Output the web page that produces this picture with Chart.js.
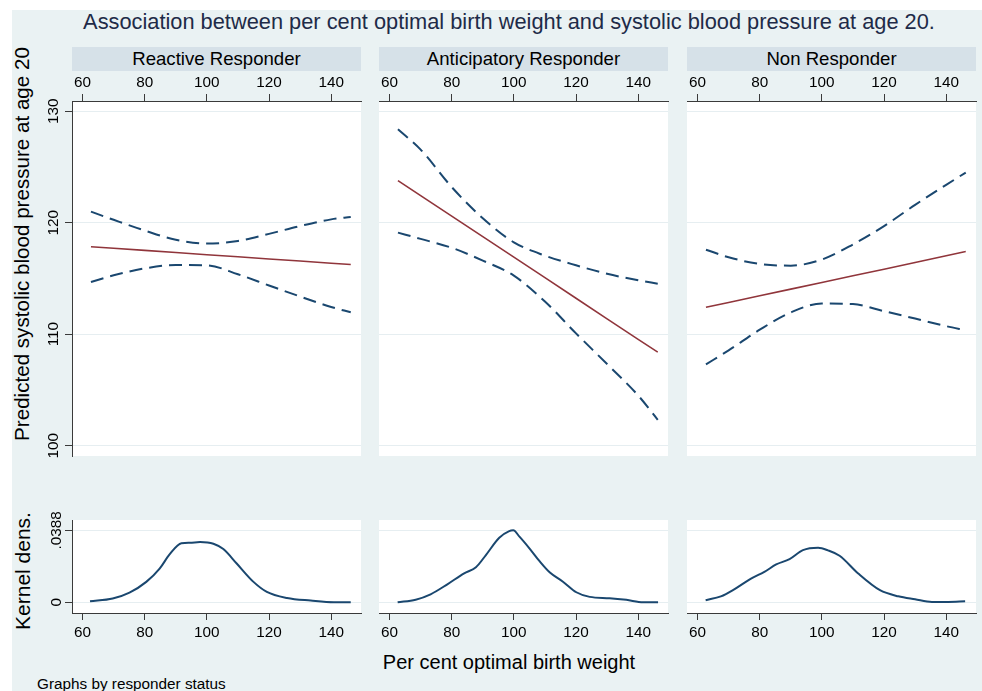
<!DOCTYPE html>
<html>
<head>
<meta charset="utf-8">
<script src="https://cdn.jsdelivr.net/npm/chart.js@4.4.1/dist/chart.umd.min.js"></script>
<style>
    body { margin: 0; background: #fff; font-family: Arial, "Liberation Sans", sans-serif; }
    #wrap { position: relative; width: 982px; height: 691px; overflow: hidden; }
    #bg { position: absolute; left: 12px; top: 10px; right: 0; bottom: 0; background: #eaf2f3; }
    .txt { position: absolute; white-space: nowrap; color: #000; }
    .strip { position: absolute; height: 24px; background: #d6e1e8; text-align: center; line-height: 24px; font-size: 18.6px; }
    .vert { transform: translate(-50%, -50%) rotate(-90deg); }
    canvas { position: absolute; }
</style>
</head>
<body>
<div id="wrap">
    <div id="bg"></div>
    <div class="txt" style="left:509px; top:22px; transform:translate(-50%,-50%); font-size:21.8px; color:#1e2b48;">Association between per cent optimal birth weight and systolic blood pressure at age 20.</div>
    <div class="txt vert" style="left:22px; top:244px; font-size:20.6px;">Predicted systolic blood pressure at age 20</div>
    <div class="txt vert" style="left:23px; top:571px; font-size:21px;">Kernel dens.</div>
    <div class="txt" style="left:509px; top:662px; transform:translate(-50%,-50%); font-size:20px;">Per cent optimal birth weight</div>
    <div class="txt" style="left:37px; top:684px; transform:translateY(-50%); font-size:15.3px;">Graphs by responder status</div>
</div>
<script>
// values
const groups = ['Reactive Responder', 'Anticipatory Responder', 'Non Responder'];
const xTicks = [60, 80, 100, 120, 140];
const bpTicks = [100, 110, 120, 130];
const densTicks = [0, 0.0388];
const densTickLabels = ['0', '.0388'];

const fitX = [62.7, 70, 80, 90, 100, 110, 120, 130, 140, 146.3];

const reactiveFit   = [117.85, 117.71, 117.52, 117.33, 117.13, 116.94, 116.75, 116.56, 116.37, 116.25];
const reactiveUpper = [120.99, 120.26, 119.30, 118.47, 118.13, 118.36, 119.00, 119.70, 120.30, 120.51];
const reactiveLower = [114.68, 115.28, 115.90, 116.21, 116.18, 115.37, 114.37, 113.38, 112.44, 111.96];

const anticipFit   = [123.78, 122.43, 120.59, 118.75, 116.91, 115.07, 113.22, 111.38, 109.54, 108.39];
const anticipUpper = [128.38, 126.56, 123.20, 120.40, 118.24, 117.05, 116.18, 115.42, 114.83, 114.53];
const anticipLower = [119.11, 118.55, 117.75, 116.60, 115.25, 112.93, 110.07, 107.32, 104.50, 102.32];

const nonFit   = [112.41, 112.85, 113.44, 114.04, 114.64, 115.24, 115.83, 116.43, 117.03, 117.41];
const nonUpper = [117.58, 116.90, 116.30, 116.15, 116.70, 118.05, 119.70, 121.60, 123.40, 124.50];
const nonLower = [107.29, 108.55, 110.40, 111.95, 112.75, 112.70, 112.06, 111.40, 110.72, 110.34];

const reactiveDensX = [62.4, 69.7, 75.1, 80.5, 84.8, 88.0, 91.8, 94.5, 97.8, 102.1, 105.3, 109.6, 115.0, 119.3, 125.8, 133.4, 140.9, 146.3];
const reactiveDensY = [0.0005, 0.0020, 0.0052, 0.0110, 0.0182, 0.0258, 0.0319, 0.0321, 0.0325, 0.0316, 0.0287, 0.0209, 0.0110, 0.0056, 0.0023, 0.0009, 0.0, 0.0];

const anticipDensX = [62.6, 68.4, 73.2, 78.6, 84.0, 87.8, 91.0, 95.3, 98.5, 99.8, 101.8, 105.0, 108.2, 111.5, 115.8, 120.1, 124.4, 130.8, 136.2, 141.6, 146.4];
const anticipDensY = [0.0, 0.0014, 0.0043, 0.0097, 0.0156, 0.0189, 0.0255, 0.0348, 0.0384, 0.0388, 0.0354, 0.0291, 0.0223, 0.0162, 0.0111, 0.0054, 0.0029, 0.0022, 0.0013, 0.0, 0.0];

const nonDensX = [62.6, 67.5, 71.8, 77.2, 81.5, 85.3, 89.6, 93.9, 98.8, 102.0, 105.7, 111.7, 118.7, 124.6, 130.0, 135.4, 140.7, 146.1];
const nonDensY = [0.0011, 0.0032, 0.0070, 0.0128, 0.0164, 0.0204, 0.0233, 0.0281, 0.0294, 0.0280, 0.0251, 0.0155, 0.0065, 0.0032, 0.0016, 0.0002, 0.0002, 0.0005];

const panelLines = [
    [reactiveFit, reactiveUpper, reactiveLower],
    [anticipFit, anticipUpper, anticipLower],
    [nonFit, nonUpper, nonLower]
];
const panelDens = [
    [reactiveDensX, reactiveDensY],
    [anticipDensX, anticipDensY],
    [nonDensX, nonDensY]
];

const FONT = 'Arial, "Liberation Sans", sans-serif';
const RED = '#90353b';
const NAVY = '#1a476f';
const AXIS = '#3a3a3a';
const GRID = '#e6eef1';

Chart.defaults.font.family = FONT;
Chart.defaults.color = '#000';

// white plot region
const plotBg = {
    id: 'plotBg',
    beforeDraw(chart) {
        const { ctx, chartArea: a } = chart;
        ctx.save();
        ctx.fillStyle = '#fff';
        ctx.fillRect(a.left, a.top, a.width, a.height);
        ctx.restore();
    }
};

class ResponderPanels {
    constructor() {
        this.wrap = document.getElementById('wrap');
        this.plotLefts = [72, 379, 687];
        this.plotWidth = 289;
        this.pad = 20;
        this.charts = [];
        this.init();
    }

    init() {
        groups.forEach((name, i) => {
            this.addStrip(name, this.plotLefts[i]);
            this.charts.push(this.makePlotChart(i));
            this.charts.push(this.makeDensityChart(i));
        });
    }

    addStrip(name, left) {
        const d = document.createElement('div');
        d.className = 'txt strip';
        d.style.left = left + 'px';
        d.style.top = '47px';
        d.style.width = this.plotWidth + 'px';
        d.textContent = name;
        this.wrap.appendChild(d);
    }

    makeCanvas(left, top, width, height) {
        const c = document.createElement('canvas');
        c.width = width;
        c.height = height;
        c.style.left = left + 'px';
        c.style.top = top + 'px';
        c.style.width = width + 'px';
        c.style.height = height + 'px';
        this.wrap.appendChild(c);
        return c;
    }

    xAxis(position, height, padding) {
        return {
            type: 'linear',
            position: position,
            min: 56.6,
            max: 149.6,
            afterBuildTicks: s => { s.ticks = xTicks.map(v => ({ value: v })); },
            afterFit: s => { s.height = height; },
            ticks: { font: { size: 15.3 }, color: '#000', padding: padding, maxRotation: 0, callback: v => String(v) },
            grid: { drawOnChartArea: false, drawTicks: true, tickLength: 7, tickColor: AXIS, tickWidth: 1 },
            border: { display: true, color: AXIS, width: 1 }
        };
    }

    yAxis(show, min, max, ticks, labels, padding) {
        return {
            type: 'linear',
            position: 'left',
            min: min,
            max: max,
            afterBuildTicks: s => { s.ticks = ticks.map(v => ({ value: v })); },
            afterFit: s => { s.width = show ? 60 : 0; },
            ticks: {
                display: show,
                font: { size: 15.3 },
                color: '#000',
                minRotation: 90,
                maxRotation: 90,
                crossAlign: 'center',
                padding: padding,
                callback: (v, idx) => labels[idx]
            },
            grid: { color: GRID, lineWidth: 1, drawTicks: show, tickLength: 7, tickColor: AXIS },
            border: { display: show, color: AXIS, width: 1 }
        };
    }

    makePlotChart(i) {
        const yW = i === 0 ? 60 : 0;
        const left = this.plotLefts[i] - yW - this.pad;
        const top = 70 - this.pad;
        const width = this.pad * 2 + yW + this.plotWidth;
        const height = this.pad * 2 + 31 + 355;
        const canvas = this.makeCanvas(left, top, width, height);
        const [fit, upper, lower] = panelLines[i];
        const pts = arr => fitX.map((x, k) => ({ x: x, y: arr[k] }));
        const dashed = arr => ({
            data: pts(arr), borderColor: NAVY, borderWidth: 2, borderDash: [13, 7],
            pointRadius: 0, cubicInterpolationMode: 'monotone', fill: false
        });

        return new Chart(canvas, {
            type: 'line',
            data: {
                datasets: [
                    dashed(upper),
                    dashed(lower),
                    { data: pts(fit), borderColor: RED, borderWidth: 1.6, pointRadius: 0, fill: false }
                ]
            },
            options: {
                responsive: false,
                animation: false,
                layout: { padding: this.pad },
                plugins: { legend: { display: false }, tooltip: { enabled: false } },
                scales: {
                    x: this.xAxis('top', 31, 2),
                    y: this.yAxis(i === 0, 99.07, 130.92, bpTicks, bpTicks.map(String), -2)
                }
            },
            plugins: [plotBg]
        });
    }

    makeDensityChart(i) {
        const yW = i === 0 ? 60 : 0;
        const left = this.plotLefts[i] - yW - this.pad;
        const top = 520 - this.pad;
        const width = this.pad * 2 + yW + this.plotWidth;
        const height = this.pad * 2 + 93 + 32;
        const canvas = this.makeCanvas(left, top, width, height);
        const [xs, ys] = panelDens[i];

        return new Chart(canvas, {
            type: 'line',
            data: {
                datasets: [{
                    data: xs.map((x, k) => ({ x: x, y: ys[k] })),
                    borderColor: NAVY, borderWidth: 2, pointRadius: 0,
                    cubicInterpolationMode: 'monotone', fill: false
                }]
            },
            options: {
                responsive: false,
                animation: false,
                layout: { padding: this.pad },
                plugins: { legend: { display: false }, tooltip: { enabled: false } },
                scales: {
                    x: this.xAxis('bottom', 32, 4),
                    y: this.yAxis(i === 0, -0.0058, 0.0444, densTicks, densTickLabels, -11)
                }
            },
            plugins: [plotBg]
        });
    }
}

const panels = new ResponderPanels();
</script>
</body>
</html>
